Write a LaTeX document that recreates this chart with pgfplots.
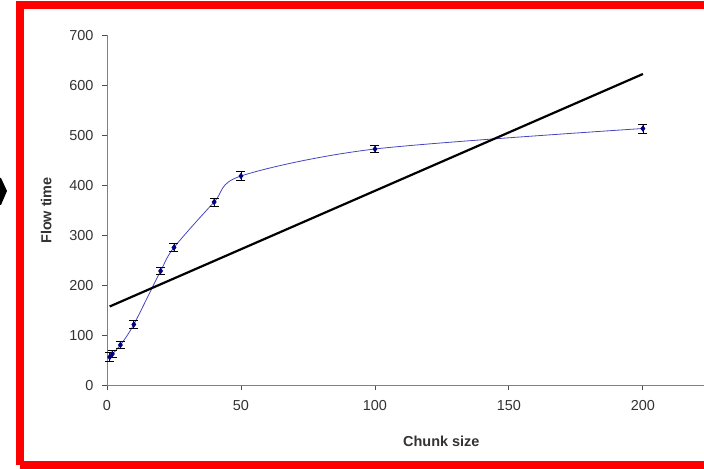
\documentclass[border=0pt]{standalone}
\usepackage{pgfplots}
\pgfplotsset{compat=1.18}
\usepackage{fontspec}
\setmainfont{Liberation Sans}

\definecolor{flowline}{HTML}{4646C0}
\definecolor{flowmark}{HTML}{000080}
\definecolor{axisgray}{HTML}{808080}
\definecolor{labelgray}{HTML}{333333}

% measured flow time (mean, error) per chunk size
\pgfplotstableread{
x   y    e
1   57   9
2   63   7
5   81   7
10  122  8
20  229  7
25  276  8
40  367  8
50  419  9
100 473  7
200 514  9
}\flowdata

% linear trend
\pgfplotstableread{
x   y
1   158
200 623
}\trenddata

\begin{document}
\begin{tikzpicture}[x=1bp,y=1bp]
\path[use as bounding box] (0,0) rectangle (704,469);
% outer frame
\draw[red, line width=8bp] (20,4) -- (20,464) -- (760,464);
\draw[red, line width=8bp] (20,4) -- (760,4);
% pointer at the left edge
\fill[black] (-2,291) -- (1,291) -- (7,278) -- (1,264) -- (-2,264) -- cycle;

\begin{axis}[
  at={(107bp,83.5bp)}, anchor=south west,
  scale only axis, width=597bp, height=350bp,
  xmin=0, xmax=222.8, ymin=0, ymax=700,
  axis x line=bottom, axis y line=left,
  axis line style={-, draw=axisgray, line width=0.9bp},
  xtick={0,50,100,150,200},
  ytick={0,100,...,700},
  tick align=outside,
  major tick length=5bp,
  tick style={draw=black!70, line width=0.9bp},
  /pgf/number format/assume math mode=true,
  tick label style={font=\fontsize{14.5}{15}\selectfont, text=labelgray},
  xticklabel style={yshift=-6bp},
  yticklabel style={xshift=-5bp},
  xlabel={\textbf{Chunk size}},
  ylabel={\textbf{Flow time}},
  label style={font=\fontsize{14.5}{15}\selectfont, text=labelgray},
  xlabel style={at={(ticklabel cs:0.56)}, anchor=north, yshift=-19bp},
  ylabel style={yshift=11bp},
  clip=false,
]
\addplot[flowline, line width=0.8bp, smooth, tension=0.5,
  mark=diamond*, mark size=2.6bp,
  mark options={flowmark, fill=flowmark},
  error bars/.cd, y dir=both, y explicit,
  error bar style={black, line width=0.7bp},
  error mark options={black, line width=0.7bp, mark size=4.5bp, rotate=90}]
  table[x=x, y=y, y error=e] {\flowdata};
\addplot[black, line width=2.2bp] table[x=x, y=y] {\trenddata};
\end{axis}
\end{tikzpicture}
\end{document}
